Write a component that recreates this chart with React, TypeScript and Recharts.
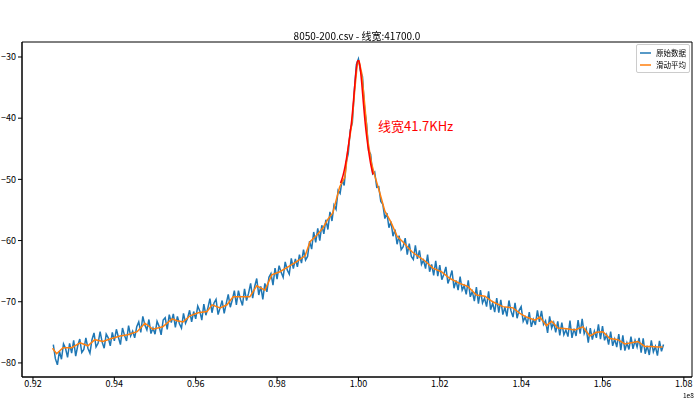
import React from "react";
import {
    LineChart, Line, XAxis, YAxis, ReferenceArea
} from "recharts";

// raw trace, one value every 0.0005 (x1e8) starting at 0.925
const RAW_START = 0.925;
const RAW_STEP = 0.0005;
const rawLevel = [
    -77.0, -79.3, -80.3, -78.1, -79.4, -76.9, -77.6, -79.1, -76.8, -78.4,
    -76.3, -78.9, -77.2, -76.1, -78.3, -77.8, -75.9, -77.6, -78.4, -76.2,
    -75.1, -77.4, -76.8, -74.9, -76.6, -77.6, -75.3, -75.9, -77.2, -75.0,
    -76.4, -74.5, -75.8, -77.0, -74.3, -75.5, -76.4, -73.9, -75.6, -74.8,
    -75.9, -74.1, -73.3, -75.0, -72.4, -73.8, -74.6, -72.9, -75.2, -74.3,
    -75.3, -73.2, -74.0, -75.4, -73.0, -72.6, -74.5, -72.1, -73.4, -72.0,
    -74.2, -72.4, -73.6, -74.3, -71.9, -73.5, -72.7, -71.4, -73.3, -71.6,
    -72.8, -70.7, -71.5, -73.0, -70.4, -72.2, -71.0, -69.5, -71.8, -70.2,
    -69.6, -72.1, -71.0, -69.8, -71.9, -70.3, -68.8, -70.9, -69.7, -68.2,
    -70.5, -68.2, -69.6, -70.6, -67.9, -69.8, -68.6, -67.0, -69.4, -67.5,
    -66.2, -68.9, -67.5, -69.6, -67.0, -68.4, -66.0, -65.4, -67.3, -64.5,
    -66.3, -64.1, -65.2, -66.0, -63.5, -64.8, -65.5, -62.9, -64.6, -63.0,
    -64.3, -62.3, -63.7, -61.5, -63.2, -62.6, -60.1, -61.4, -58.6, -60.3,
    -58.0, -60.0, -57.5, -58.9, -56.6, -58.2, -55.3, -56.8, -54.2, -54.9,
    -51.8, -52.3, -50.1, -51.0, -47.2, -45.8, -41.9, -40.8, -35.5, -31.2,
    -30.3, -32.3, -33.2, -38.4, -40.9, -45.3, -45.9, -49.1, -48.8, -51.3,
    -51.2, -53.6, -54.1, -56.4, -55.5, -57.9, -56.9, -59.3, -58.2, -60.6,
    -59.2, -61.5, -61.0, -59.6, -62.3, -60.5, -62.6, -63.1, -60.8, -63.0,
    -61.6, -63.9, -63.2, -64.6, -62.3, -65.1, -63.9, -65.7, -63.3, -65.8,
    -64.0, -66.4, -65.5, -64.3, -67.0, -66.1, -64.9, -67.8, -66.5, -68.1,
    -65.9, -68.1, -67.4, -68.8, -66.5, -69.2, -68.3, -69.9, -67.6, -70.3,
    -68.1, -70.2, -69.4, -70.8, -68.3, -71.3, -70.2, -71.7, -69.4, -71.8,
    -69.7, -72.1, -70.9, -72.4, -69.8, -71.5, -72.5, -70.2, -72.7, -71.4,
    -70.8, -73.2, -72.5, -73.7, -71.7, -74.1, -72.9, -73.8, -71.4, -73.3,
    -71.5, -73.7, -73.1, -75.1, -72.4, -74.3, -73.4, -75.0, -73.2, -75.5,
    -73.4, -75.4, -74.6, -75.7, -73.1, -75.9, -74.4, -75.6, -73.0, -75.2,
    -72.8, -75.2, -74.4, -76.7, -74.3, -76.2, -74.8, -75.9, -73.7, -76.1,
    -74.0, -76.3, -75.4, -77.0, -74.9, -77.2, -76.1, -77.4, -75.3, -77.9,
    -75.5, -78.0, -76.7, -77.8, -75.7, -77.7, -76.3, -77.4, -75.9, -78.3,
    -76.0, -78.5, -77.2, -78.7, -76.3, -78.2, -77.3, -78.8, -76.4, -78.1,
    -77.0,
];

// moving average
const smoothFreq = [
    0.9248, 0.9258, 0.9274, 0.9295, 0.9316, 0.9335, 0.9352, 0.9372, 0.9389, 0.9414,
    0.9433, 0.9456, 0.9475, 0.9495, 0.9519, 0.9542, 0.9554, 0.9569, 0.9586, 0.9606,
    0.9628, 0.9640, 0.9660, 0.9677, 0.9692, 0.9714, 0.9733, 0.9750, 0.9770, 0.9787,
    0.9807, 0.9827, 0.9849, 0.9869, 0.9881, 0.9898, 0.9913, 0.9925, 0.9937, 0.9954,
    0.9967, 0.9974, 0.9984, 0.9991, 0.9997, 1.0002, 1.0008, 1.0016, 1.0023, 1.0032,
    1.0041, 1.0053, 1.0065, 1.0080, 1.0095, 1.0109, 1.0131, 1.0143, 1.0163, 1.0183,
    1.0204, 1.0225, 1.0249, 1.0269, 1.0290, 1.0311, 1.0330, 1.0355, 1.0380, 1.0397,
    1.0413, 1.0434, 1.0446, 1.0462, 1.0475, 1.0490, 1.0512, 1.0532, 1.0552, 1.0569,
    1.0585, 1.0601, 1.0618, 1.0638, 1.0655, 1.0671, 1.0687, 1.0704, 1.0721, 1.0736,
    1.0748,
];
const smoothLevel = [
    -77.6, -78.5, -77.5, -77.5, -76.7, -77.2, -76.2, -76.5, -76.1, -75.6,
    -75.4, -74.9, -73.5, -74.5, -74.1, -72.8, -73.1, -73.3, -72.3, -71.8,
    -71.6, -70.5, -71.0, -70.5, -69.2, -69.2, -69.2, -67.4, -68.1, -65.6,
    -65.1, -64.3, -63.4, -62.5, -60.2, -59.1, -57.9, -56.5, -55.5, -51.2,
    -49.6, -45.2, -40.8, -35.4, -31.3, -30.8, -32.6, -38.1, -43.6, -47.3,
    -49.6, -52.3, -55.2, -57.0, -59.3, -60.2, -61.8, -62.4, -63.3, -64.5,
    -65.1, -66.2, -67.0, -67.5, -68.9, -69.1, -70.0, -70.8, -71.0, -71.9,
    -72.5, -73.0, -72.5, -73.9, -73.2, -74.3, -74.4, -74.6, -74.1, -75.6,
    -75.0, -74.9, -76.0, -76.2, -76.9, -76.7, -76.5, -77.3, -77.3, -77.4,
    -77.4,
];

// fitted peak (red)
const fitFreq = [
    0.9956, 0.9962, 0.9968, 0.9973, 0.9978, 0.9983, 0.9987, 0.9991, 0.9995, 0.9998,
    1.0001, 1.0004, 1.0008, 1.0012, 1.0016, 1.0021, 1.0026, 1.0031, 1.0036,
];
const fitLevel = [
    -50.6, -49.4, -47.6, -45.6, -43.2, -40.6, -37.8, -34.6, -31.8, -30.6,
    -30.6, -31.6, -34.2, -37.4, -40.4, -43.4, -45.8, -47.8, -49.2,
];

const xTicks = [0.92, 0.94, 0.96, 0.98, 1.0, 1.02, 1.04, 1.06, 1.08];
const yTicks = [-30, -40, -50, -60, -70, -80];

const X_MIN = 0.9173;
const X_MAX = 1.0820;
const Y_MIN = -82.3;
const Y_MAX = -27.55;

const FONT = '"Noto Sans CJK SC", "DejaVu Sans", sans-serif';

const rawData = rawLevel.map((v, i) => ({ f: RAW_START + i * RAW_STEP, v }));
const smoothData = smoothFreq.map((f, i) => ({ f, v: smoothLevel[i] }));
const fitData = fitFreq.map((f, i) => ({ f, v: fitLevel[i] }));

const tickStyle = { fontSize: 9, fill: "#000", fontFamily: FONT };

function LegendRow({ color, label }: { color: string; label: string }) {
    return (
        <div style={{ display: "flex", alignItems: "center", height: 12, whiteSpace: "nowrap" }}>
            <svg width={14} height={4} style={{ marginRight: 5 }}>
                <line x1={0} y1={2} x2={14} y2={2} stroke={color} strokeWidth={1.5} />
            </svg>
            <span>{label}</span>
        </div>
    );
}

export default function App() {
    return (
        <div style={{ position: "fixed", left: 0, top: 0, width: 700, height: 399, background: "#fff", fontFamily: FONT }}>
            <LineChart width={700} height={399} margin={{ top: 42, right: 8, bottom: 0, left: 0 }}>
                <XAxis
                    dataKey="f"
                    type="number"
                    domain={[X_MIN, X_MAX]}
                    ticks={xTicks}
                    tickFormatter={(v: number) => v.toFixed(2)}
                    allowDataOverflow
                    height={22}
                    tickSize={4}
                    tickMargin={0}
                    tick={tickStyle}
                    stroke="#000"
                />
                <YAxis
                    type="number"
                    domain={[Y_MIN, Y_MAX]}
                    ticks={yTicks}
                    tickFormatter={(v: number) => `\u2212${Math.abs(v)}`}
                    allowDataOverflow
                    width={22}
                    tickSize={4}
                    tick={tickStyle}
                    stroke="#000"
                />
                <ReferenceArea x1={X_MIN} x2={X_MAX} y1={Y_MIN} y2={Y_MAX} stroke="#000" strokeWidth={1} fill="none" fillOpacity={0} />
                <Line data={rawData} dataKey="v" stroke="#1f77b4" strokeWidth={1.5} dot={false} isAnimationActive={false} />
                <Line data={smoothData} dataKey="v" stroke="#ff7f0e" strokeWidth={1.5} dot={false} isAnimationActive={false} />
                <Line data={fitData} dataKey="v" type="monotone" stroke="#ff0000" strokeWidth={1.5} dot={false} isAnimationActive={false} />
            </LineChart>
            <div style={{ position: "absolute", left: 0, width: 714, top: 28, textAlign: "center", fontSize: 10, color: "#000" }}>
                8050-200.csv - 线宽:41700.0
            </div>
            <div style={{ position: "absolute", left: 378, top: 116, fontSize: 13, color: "#ff0000" }}>
                线宽41.7KHz
            </div>
            <div style={{ position: "absolute", left: 683, top: 392, fontSize: 6.5, lineHeight: "7px", color: "#000" }}>1e8</div>
            <div style={{
                position: "absolute", left: 636, top: 44, width: 54, height: 29,
                border: "1px solid #ccc", borderRadius: 2, background: "rgba(255,255,255,0.8)",
                fontSize: 7.5, lineHeight: "12px", color: "#000", boxSizing: "border-box", padding: "2px 3px",
            }}>
                <LegendRow color="#1f77b4" label="原始数据" />
                <LegendRow color="#ff7f0e" label="滑动平均" />
            </div>
        </div>
    );
}
